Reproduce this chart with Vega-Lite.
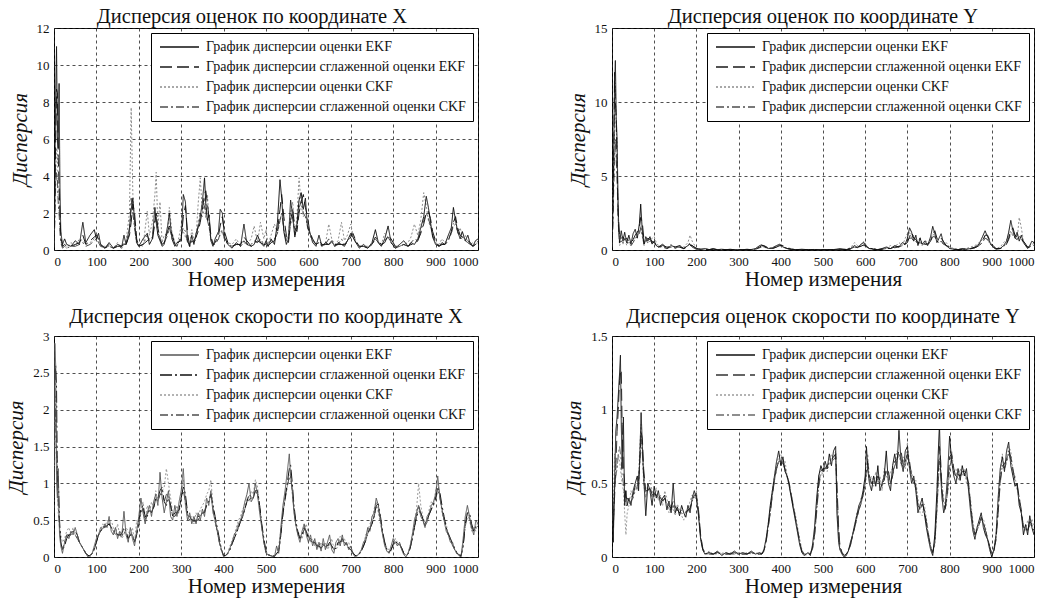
{
"$schema": "https://vega.github.io/schema/vega-lite/v6.json",
"background": "white",
"padding": {"left": 5, "top": 6, "right": 5, "bottom": 4},
"config": {
  "font": "Liberation Serif",
  "view": {"stroke": "black", "strokeWidth": 1},
  "axis": {"grid": true, "gridColor": "#222", "gridDash": [3, 3], "gridWidth": 0.8, "gridOpacity": 1, "domain": false, "ticks": false, "labelFont": "Liberation Serif", "labelFontSize": 13, "labelColor": "#111", "titleFont": "Liberation Serif", "titleFontSize": 21, "titleFontWeight": "normal", "titleColor": "#111"},
  "axisX": {"labelPadding": 5, "titlePadding": 0, "format": "d"},
  "axisY": {"labelPadding": 5, "titlePadding": 6, "titleFontStyle": "italic"},
  "title": {"font": "Liberation Serif", "fontSize": 20.5, "fontWeight": "normal", "color": "#111"},
  "legend": {"orient": "top-right", "offset": 5, "fillColor": "white", "strokeColor": "black", "padding": 7, "symbolType": "M-1,0L6.8,0", "symbolSize": 100, "symbolStrokeWidth": 1.3, "labelFont": "Liberation Serif", "labelFontSize": 14, "labelColor": "#111", "labelLimit": 400, "labelOffset": 34, "rowPadding": 6}
},
"datasets": {
"px": [
{"x":0,"e":0.5,"s":0.3,"c":0.4,"k":0.3},{"x":2,"e":4.0,"s":2.5,"c":2.0,"k":1.5},{"x":4,"e":8.5,"s":6.0,"c":4.0,"k":3.5},{"x":6,"e":11.0,"s":8.7,"c":5.5,"k":4.2},{"x":8,"e":6.0,"s":8.5,"c":5.3,"k":3.8},{"x":10,"e":5.5,"s":5.0,"c":3.0,"k":2.5},{"x":12,"e":9.0,"s":3.5,"c":2.2,"k":2.0},{"x":14,"e":3.4,"s":2.0,"c":1.2,"k":1.0},{"x":16,"e":1.0,"s":0.8,"c":0.5,"k":0.4},{"x":20,"e":0.3,"s":0.2,"c":0.2,"k":0.1},{"x":25,"e":0.6,"s":0.3,"c":0.2,"k":0.2},{"x":30,"e":0.3,"s":0.2,"c":0.1,"k":0.1},{"x":40,"e":0.2,"s":0.2,"c":0.4,"k":0.2},{"x":50,"e":0.5,"s":0.3,"c":0.2,"k":0.2},{"x":60,"e":0.3,"s":0.4,"c":0.6,"k":0.3},{"x":68,"e":1.5,"s":0.8,"c":0.5,"k":0.4},{"x":75,"e":0.4,"s":0.3,"c":0.3,"k":0.2},{"x":85,"e":0.8,"s":0.5,"c":0.4,"k":0.3},{"x":95,"e":1.1,"s":0.7,"c":0.6,"k":0.5},{"x":100,"e":0.6,"s":0.8,"c":0.9,"k":0.6},{"x":105,"e":0.9,"s":0.6,"c":0.5,"k":0.4},{"x":110,"e":0.3,"s":0.3,"c":0.2,"k":0.2},{"x":120,"e":0.1,"s":0.1,"c":0.2,"k":0.1},{"x":130,"e":0.4,"s":0.3,"c":0.2,"k":0.2},{"x":140,"e":0.1,"s":0.1,"c":0.1,"k":0.1},{"x":150,"e":0.3,"s":0.2,"c":0.4,"k":0.2},{"x":160,"e":0.2,"s":0.2,"c":0.1,"k":0.1},{"x":165,"e":0.8,"s":0.4,"c":0.3,"k":0.3},{"x":170,"e":0.3,"s":0.3,"c":0.5,"k":0.3},{"x":178,"e":1.2,"s":0.8,"c":2.0,"k":0.9},{"x":182,"e":2.2,"s":1.5,"c":7.7,"k":2.8},{"x":186,"e":2.8,"s":2.5,"c":3.0,"k":2.0},{"x":190,"e":1.6,"s":2.0,"c":1.2,"k":1.2},{"x":195,"e":0.4,"s":0.6,"c":0.3,"k":0.4},{"x":200,"e":0.2,"s":0.2,"c":0.3,"k":0.2},{"x":210,"e":0.6,"s":0.3,"c":0.2,"k":0.3},{"x":220,"e":0.9,"s":0.5,"c":2.1,"k":0.8},{"x":225,"e":0.3,"s":0.6,"c":0.8,"k":0.5},{"x":232,"e":0.6,"s":0.5,"c":1.5,"k":0.7},{"x":238,"e":2.3,"s":1.5,"c":3.0,"k":1.6},{"x":241,"e":1.5,"s":2.0,"c":4.2,"k":1.8},{"x":245,"e":0.8,"s":1.2,"c":1.2,"k":0.9},{"x":250,"e":0.5,"s":0.6,"c":2.6,"k":0.7},{"x":255,"e":0.2,"s":0.3,"c":0.4,"k":0.3},{"x":260,"e":0.3,"s":0.4,"c":0.8,"k":0.4},{"x":268,"e":1.3,"s":1.0,"c":0.9,"k":0.8},{"x":272,"e":2.0,"s":1.3,"c":2.3,"k":1.2},{"x":278,"e":0.6,"s":0.9,"c":1.0,"k":0.7},{"x":285,"e":0.2,"s":0.3,"c":0.4,"k":0.3},{"x":290,"e":0.4,"s":0.3,"c":0.2,"k":0.2},{"x":300,"e":0.5,"s":0.6,"c":1.3,"k":0.8},{"x":305,"e":3.0,"s":1.8,"c":1.0,"k":1.2},{"x":310,"e":2.6,"s":2.4,"c":0.7,"k":1.0},{"x":315,"e":0.5,"s":0.9,"c":0.5,"k":0.4},{"x":320,"e":0.2,"s":0.2,"c":0.3,"k":0.2},{"x":325,"e":0.8,"s":0.4,"c":1.1,"k":0.5},{"x":330,"e":0.3,"s":0.5,"c":0.6,"k":0.4},{"x":335,"e":0.9,"s":0.7,"c":0.7,"k":0.6},{"x":340,"e":1.2,"s":1.0,"c":2.5,"k":1.4},{"x":345,"e":1.8,"s":1.5,"c":3.9,"k":2.0},{"x":350,"e":2.6,"s":2.2,"c":2.0,"k":1.8},{"x":355,"e":3.9,"s":3.0,"c":2.8,"k":2.4},{"x":358,"e":2.5,"s":3.2,"c":1.7,"k":2.0},{"x":362,"e":1.6,"s":2.5,"c":3.0,"k":1.6},{"x":366,"e":1.9,"s":1.6,"c":1.2,"k":1.2},{"x":370,"e":0.5,"s":0.8,"c":0.6,"k":0.6},{"x":375,"e":0.2,"s":0.3,"c":0.3,"k":0.3},{"x":380,"e":0.6,"s":0.4,"c":0.4,"k":0.3},{"x":388,"e":1.0,"s":0.8,"c":0.6,"k":0.6},{"x":392,"e":2.2,"s":1.3,"c":0.8,"k":0.9},{"x":397,"e":2.0,"s":1.8,"c":1.0,"k":1.1},{"x":402,"e":0.7,"s":1.0,"c":0.6,"k":0.6},{"x":410,"e":0.3,"s":0.4,"c":0.4,"k":0.3},{"x":420,"e":0.1,"s":0.2,"c":0.3,"k":0.2},{"x":430,"e":0.4,"s":0.3,"c":0.6,"k":0.3},{"x":440,"e":0.2,"s":0.3,"c":0.2,"k":0.2},{"x":448,"e":1.4,"s":0.7,"c":0.4,"k":0.5},{"x":455,"e":0.3,"s":0.5,"c":0.3,"k":0.3},{"x":465,"e":0.2,"s":0.2,"c":0.6,"k":0.3},{"x":472,"e":0.3,"s":0.3,"c":1.3,"k":0.5},{"x":480,"e":0.8,"s":0.5,"c":0.4,"k":0.4},{"x":487,"e":0.4,"s":0.4,"c":1.5,"k":0.6},{"x":495,"e":0.2,"s":0.3,"c":0.6,"k":0.3},{"x":500,"e":0.5,"s":0.3,"c":1.1,"k":0.4},{"x":505,"e":0.2,"s":0.2,"c":0.3,"k":0.2},{"x":512,"e":0.6,"s":0.4,"c":0.8,"k":0.5},{"x":520,"e":0.3,"s":0.5,"c":1.4,"k":0.6},{"x":527,"e":1.5,"s":1.0,"c":0.9,"k":0.9},{"x":533,"e":3.8,"s":2.2,"c":1.6,"k":1.6},{"x":537,"e":2.8,"s":3.0,"c":2.0,"k":2.0},{"x":542,"e":1.0,"s":1.8,"c":1.2,"k":1.1},{"x":548,"e":0.3,"s":0.8,"c":0.5,"k":0.5},{"x":553,"e":0.6,"s":0.4,"c":0.8,"k":0.5},{"x":558,"e":2.7,"s":1.6,"c":2.0,"k":1.4},{"x":563,"e":1.8,"s":2.2,"c":2.6,"k":1.8},{"x":568,"e":0.7,"s":1.2,"c":0.8,"k":0.8},{"x":573,"e":1.4,"s":1.0,"c":1.8,"k":1.2},{"x":578,"e":2.7,"s":2.0,"c":3.9,"k":2.3},{"x":583,"e":3.1,"s":2.6,"c":2.4,"k":2.6},{"x":588,"e":2.2,"s":3.0,"c":1.8,"k":2.0},{"x":593,"e":2.8,"s":2.3,"c":2.0,"k":1.8},{"x":598,"e":1.2,"s":1.8,"c":1.2,"k":1.3},{"x":603,"e":1.0,"s":1.0,"c":0.8,"k":0.9},{"x":610,"e":0.4,"s":0.6,"c":0.5,"k":0.5},{"x":618,"e":0.2,"s":0.3,"c":0.3,"k":0.3},{"x":625,"e":0.8,"s":0.5,"c":0.4,"k":0.4},{"x":632,"e":0.2,"s":0.3,"c":0.2,"k":0.2},{"x":640,"e":0.4,"s":0.3,"c":0.3,"k":0.3},{"x":648,"e":0.3,"s":0.3,"c":1.4,"k":0.6},{"x":655,"e":0.5,"s":0.4,"c":0.6,"k":0.4},{"x":662,"e":0.2,"s":0.3,"c":0.3,"k":0.2},{"x":670,"e":0.4,"s":0.3,"c":0.5,"k":0.3},{"x":678,"e":0.3,"s":0.3,"c":1.5,"k":0.6},{"x":685,"e":0.2,"s":0.3,"c":0.5,"k":0.3},{"x":692,"e":0.5,"s":0.4,"c":0.8,"k":0.5},{"x":700,"e":0.9,"s":0.7,"c":1.4,"k":0.8},{"x":705,"e":0.7,"s":0.9,"c":0.8,"k":0.7},{"x":712,"e":0.4,"s":0.5,"c":0.5,"k":0.4},{"x":720,"e":0.1,"s":0.2,"c":0.2,"k":0.2},{"x":730,"e":0.3,"s":0.2,"c":0.2,"k":0.2},{"x":740,"e":0.1,"s":0.1,"c":0.2,"k":0.1},{"x":750,"e":0.4,"s":0.3,"c":0.3,"k":0.3},{"x":758,"e":1.1,"s":0.7,"c":0.6,"k":0.6},{"x":765,"e":0.4,"s":0.5,"c":0.4,"k":0.4},{"x":772,"e":0.2,"s":0.3,"c":0.3,"k":0.2},{"x":780,"e":0.6,"s":0.4,"c":0.9,"k":0.5},{"x":788,"e":1.3,"s":0.8,"c":0.7,"k":0.7},{"x":795,"e":0.4,"s":0.6,"c":0.4,"k":0.4},{"x":805,"e":0.1,"s":0.2,"c":0.2,"k":0.1},{"x":815,"e":0.3,"s":0.2,"c":0.2,"k":0.2},{"x":825,"e":0.5,"s":0.3,"c":0.3,"k":0.3},{"x":835,"e":0.2,"s":0.2,"c":0.4,"k":0.2},{"x":842,"e":0.4,"s":0.3,"c":0.7,"k":0.4},{"x":850,"e":0.3,"s":0.3,"c":1.4,"k":0.6},{"x":858,"e":0.6,"s":0.5,"c":0.8,"k":0.5},{"x":865,"e":1.2,"s":0.9,"c":1.6,"k":1.0},{"x":872,"e":1.8,"s":1.4,"c":3.1,"k":1.6},{"x":878,"e":2.9,"s":2.0,"c":2.4,"k":2.0},{"x":883,"e":2.3,"s":2.1,"c":1.6,"k":1.7},{"x":888,"e":1.5,"s":1.7,"c":1.2,"k":1.3},{"x":893,"e":0.7,"s":1.0,"c":0.8,"k":0.8},{"x":900,"e":0.3,"s":0.5,"c":0.4,"k":0.4},{"x":908,"e":0.2,"s":0.2,"c":0.3,"k":0.2},{"x":915,"e":0.4,"s":0.3,"c":0.6,"k":0.3},{"x":922,"e":0.3,"s":0.3,"c":0.4,"k":0.3},{"x":930,"e":0.8,"s":0.5,"c":0.6,"k":0.5},{"x":937,"e":1.2,"s":1.0,"c":0.9,"k":0.9},{"x":942,"e":2.3,"s":1.5,"c":1.4,"k":1.3},{"x":947,"e":1.6,"s":1.8,"c":1.8,"k":1.4},{"x":952,"e":1.0,"s":1.2,"c":0.9,"k":1.0},{"x":958,"e":0.6,"s":0.8,"c":1.2,"k":0.7},{"x":963,"e":1.0,"s":0.7,"c":0.7,"k":0.6},{"x":970,"e":0.5,"s":0.6,"c":0.8,"k":0.5},{"x":976,"e":0.8,"s":0.5,"c":0.4,"k":0.4},{"x":982,"e":0.3,"s":0.4,"c":0.3,"k":0.3},{"x":988,"e":0.2,"s":0.2,"c":0.4,"k":0.2},{"x":994,"e":0.5,"s":0.3,"c":0.3,"k":0.3},{"x":1000,"e":0.6,"s":0.4,"c":0.5,"k":0.4}
],
"py": [
{"x":0,"e":0.5,"s":0.3,"c":0.4,"k":0.3},{"x":2,"e":3.0,"s":2.0,"c":2.5,"k":1.5},{"x":4,"e":7.0,"s":5.5,"c":6.0,"k":4.0},{"x":6,"e":11.0,"s":12.0,"c":8.0,"k":6.0},{"x":8,"e":12.8,"s":10.0,"c":11.3,"k":7.5},{"x":10,"e":9.0,"s":9.0,"c":8.0,"k":6.0},{"x":12,"e":7.5,"s":5.5,"c":7.5,"k":5.0},{"x":14,"e":4.0,"s":3.0,"c":2.5,"k":2.5},{"x":16,"e":1.5,"s":1.8,"c":1.0,"k":1.2},{"x":18,"e":0.5,"s":0.8,"c":0.3,"k":0.5},{"x":22,"e":1.3,"s":0.8,"c":0.6,"k":0.6},{"x":26,"e":0.6,"s":0.9,"c":0.4,"k":0.5},{"x":30,"e":1.2,"s":0.7,"c":0.8,"k":0.6},{"x":35,"e":0.5,"s":0.8,"c":0.3,"k":0.5},{"x":40,"e":1.0,"s":0.6,"c":0.6,"k":0.5},{"x":45,"e":0.4,"s":0.5,"c":0.3,"k":0.3},{"x":50,"e":1.1,"s":0.7,"c":0.5,"k":0.5},{"x":55,"e":1.4,"s":1.0,"c":0.8,"k":0.8},{"x":60,"e":0.8,"s":1.2,"c":1.0,"k":0.9},{"x":65,"e":1.8,"s":1.5,"c":1.2,"k":1.1},{"x":68,"e":3.1,"s":2.2,"c":1.6,"k":1.5},{"x":72,"e":1.2,"s":1.8,"c":0.9,"k":1.0},{"x":76,"e":0.4,"s":0.6,"c":0.3,"k":0.4},{"x":80,"e":0.9,"s":0.6,"c":0.7,"k":0.6},{"x":85,"e":0.6,"s":0.8,"c":0.5,"k":0.5},{"x":90,"e":0.9,"s":0.7,"c":0.6,"k":0.6},{"x":95,"e":0.4,"s":0.6,"c":0.8,"k":0.5},{"x":100,"e":0.6,"s":0.5,"c":0.9,"k":0.5},{"x":105,"e":0.3,"s":0.4,"c":0.5,"k":0.3},{"x":110,"e":0.2,"s":0.2,"c":0.3,"k":0.2},{"x":120,"e":0.4,"s":0.3,"c":0.2,"k":0.2},{"x":130,"e":0.1,"s":0.2,"c":0.1,"k":0.1},{"x":140,"e":0.3,"s":0.2,"c":0.4,"k":0.2},{"x":150,"e":0.2,"s":0.2,"c":0.1,"k":0.1},{"x":160,"e":0.3,"s":0.2,"c":0.3,"k":0.2},{"x":170,"e":0.1,"s":0.1,"c":0.2,"k":0.1},{"x":180,"e":0.3,"s":0.2,"c":0.5,"k":0.3},{"x":185,"e":0.4,"s":0.3,"c":1.0,"k":0.5},{"x":190,"e":0.2,"s":0.3,"c":0.6,"k":0.3},{"x":200,"e":0.05,"s":0.1,"c":0.1,"k":0.1},{"x":210,"e":0.05,"s":0.05,"c":0.05,"k":0.05},{"x":220,"e":0.1,"s":0.05,"c":0.05,"k":0.05},{"x":230,"e":0.02,"s":0.03,"c":0.05,"k":0.03},{"x":240,"e":0.1,"s":0.05,"c":0.05,"k":0.05},{"x":250,"e":0.02,"s":0.02,"c":0.03,"k":0.02},{"x":260,"e":0.05,"s":0.03,"c":0.05,"k":0.03},{"x":270,"e":0.02,"s":0.02,"c":0.02,"k":0.02},{"x":280,"e":0.05,"s":0.03,"c":0.03,"k":0.03},{"x":290,"e":0.02,"s":0.02,"c":0.02,"k":0.02},{"x":300,"e":0.03,"s":0.02,"c":0.03,"k":0.02},{"x":310,"e":0.02,"s":0.02,"c":0.02,"k":0.02},{"x":320,"e":0.05,"s":0.03,"c":0.03,"k":0.03},{"x":330,"e":0.02,"s":0.02,"c":0.04,"k":0.02},{"x":340,"e":0.1,"s":0.05,"c":0.08,"k":0.05},{"x":350,"e":0.3,"s":0.2,"c":0.2,"k":0.15},{"x":355,"e":0.35,"s":0.3,"c":0.25,"k":0.2},{"x":360,"e":0.25,"s":0.3,"c":0.2,"k":0.2},{"x":370,"e":0.1,"s":0.15,"c":0.15,"k":0.1},{"x":380,"e":0.15,"s":0.1,"c":0.1,"k":0.1},{"x":390,"e":0.3,"s":0.2,"c":0.25,"k":0.2},{"x":398,"e":0.4,"s":0.3,"c":0.35,"k":0.3},{"x":405,"e":0.2,"s":0.3,"c":0.2,"k":0.2},{"x":415,"e":0.1,"s":0.1,"c":0.15,"k":0.1},{"x":425,"e":0.05,"s":0.05,"c":0.1,"k":0.05},{"x":435,"e":0.02,"s":0.02,"c":0.03,"k":0.02},{"x":450,"e":0.05,"s":0.03,"c":0.02,"k":0.03},{"x":465,"e":0.02,"s":0.02,"c":0.02,"k":0.02},{"x":480,"e":0.03,"s":0.02,"c":0.04,"k":0.02},{"x":495,"e":0.02,"s":0.02,"c":0.02,"k":0.02},{"x":510,"e":0.02,"s":0.02,"c":0.03,"k":0.02},{"x":525,"e":0.03,"s":0.02,"c":0.02,"k":0.02},{"x":540,"e":0.08,"s":0.05,"c":0.05,"k":0.05},{"x":555,"e":0.03,"s":0.03,"c":0.05,"k":0.03},{"x":565,"e":0.1,"s":0.05,"c":0.15,"k":0.08},{"x":575,"e":0.3,"s":0.15,"c":0.5,"k":0.2},{"x":582,"e":0.15,"s":0.2,"c":0.3,"k":0.2},{"x":590,"e":0.4,"s":0.25,"c":0.3,"k":0.25},{"x":597,"e":0.5,"s":0.35,"c":0.6,"k":0.3},{"x":603,"e":0.2,"s":0.3,"c":0.3,"k":0.25},{"x":610,"e":0.1,"s":0.15,"c":0.1,"k":0.1},{"x":620,"e":0.05,"s":0.05,"c":0.1,"k":0.05},{"x":630,"e":0.02,"s":0.03,"c":0.05,"k":0.03},{"x":640,"e":0.1,"s":0.05,"c":0.05,"k":0.05},{"x":650,"e":0.2,"s":0.1,"c":0.15,"k":0.1},{"x":660,"e":0.1,"s":0.1,"c":0.3,"k":0.1},{"x":670,"e":0.3,"s":0.2,"c":0.2,"k":0.15},{"x":680,"e":0.2,"s":0.25,"c":0.5,"k":0.2},{"x":688,"e":0.5,"s":0.3,"c":0.3,"k":0.3},{"x":695,"e":0.4,"s":0.4,"c":0.8,"k":0.4},{"x":700,"e":0.8,"s":0.5,"c":1.1,"k":0.6},{"x":705,"e":1.5,"s":0.9,"c":1.2,"k":0.8},{"x":710,"e":1.2,"s":1.2,"c":0.8,"k":0.8},{"x":715,"e":0.6,"s":0.8,"c":1.0,"k":0.6},{"x":720,"e":1.0,"s":0.7,"c":0.6,"k":0.6},{"x":725,"e":0.3,"s":0.5,"c":0.4,"k":0.4},{"x":730,"e":0.8,"s":0.5,"c":0.9,"k":0.5},{"x":735,"e":0.4,"s":0.5,"c":0.3,"k":0.4},{"x":742,"e":0.6,"s":0.4,"c":0.7,"k":0.4},{"x":748,"e":0.3,"s":0.4,"c":0.4,"k":0.3},{"x":755,"e":0.9,"s":0.6,"c":0.8,"k":0.6},{"x":760,"e":1.6,"s":1.1,"c":1.1,"k":0.9},{"x":765,"e":1.1,"s":1.3,"c":0.9,"k":0.9},{"x":770,"e":0.5,"s":0.8,"c":0.6,"k":0.6},{"x":775,"e":0.8,"s":0.6,"c":0.5,"k":0.5},{"x":780,"e":1.1,"s":0.8,"c":0.6,"k":0.6},{"x":785,"e":0.5,"s":0.6,"c":0.4,"k":0.4},{"x":792,"e":0.3,"s":0.3,"c":0.5,"k":0.3},{"x":800,"e":0.1,"s":0.2,"c":0.2,"k":0.15},{"x":810,"e":0.05,"s":0.05,"c":0.1,"k":0.05},{"x":820,"e":0.02,"s":0.03,"c":0.05,"k":0.03},{"x":830,"e":0.1,"s":0.05,"c":0.05,"k":0.05},{"x":840,"e":0.05,"s":0.05,"c":0.1,"k":0.05},{"x":850,"e":0.1,"s":0.08,"c":0.2,"k":0.1},{"x":860,"e":0.2,"s":0.15,"c":0.3,"k":0.15},{"x":870,"e":0.4,"s":0.3,"c":0.5,"k":0.3},{"x":878,"e":0.9,"s":0.6,"c":0.7,"k":0.5},{"x":884,"e":1.3,"s":1.0,"c":0.9,"k":0.8},{"x":890,"e":0.9,"s":1.0,"c":0.7,"k":0.7},{"x":896,"e":0.5,"s":0.6,"c":0.4,"k":0.4},{"x":903,"e":0.2,"s":0.3,"c":0.2,"k":0.2},{"x":910,"e":0.05,"s":0.1,"c":0.1,"k":0.08},{"x":920,"e":0.1,"s":0.1,"c":0.2,"k":0.1},{"x":928,"e":0.3,"s":0.2,"c":0.5,"k":0.25},{"x":935,"e":0.6,"s":0.4,"c":0.7,"k":0.4},{"x":940,"e":1.2,"s":0.8,"c":0.9,"k":0.7},{"x":945,"e":2.0,"s":1.3,"c":1.3,"k":1.1},{"x":950,"e":1.3,"s":1.5,"c":1.0,"k":1.0},{"x":955,"e":0.8,"s":1.0,"c":1.1,"k":0.8},{"x":960,"e":1.2,"s":0.9,"c":0.7,"k":0.7},{"x":965,"e":0.6,"s":0.8,"c":2.2,"k":0.9},{"x":970,"e":1.0,"s":0.7,"c":1.5,"k":0.8},{"x":975,"e":0.5,"s":0.6,"c":0.6,"k":0.5},{"x":980,"e":0.3,"s":0.4,"c":0.4,"k":0.3},{"x":985,"e":0.1,"s":0.2,"c":0.2,"k":0.15},{"x":990,"e":0.3,"s":0.2,"c":0.3,"k":0.2},{"x":995,"e":0.6,"s":0.4,"c":0.4,"k":0.3},{"x":1000,"e":0.5,"s":0.5,"c":0.3,"k":0.3}
],
"vx": [
{"x":0,"e":1.0,"s":0.5,"c":0.8,"k":0.6},{"x":2,"e":2.9,"s":2.3,"c":1.8,"k":1.6},{"x":4,"e":2.6,"s":2.6,"c":2.2,"k":2.0},{"x":6,"e":1.0,"s":2.3,"c":1.5,"k":1.4},{"x":8,"e":0.8,"s":1.0,"c":1.2,"k":1.0},{"x":10,"e":1.2,"s":1.1,"c":0.6,"k":0.7},{"x":13,"e":0.3,"s":0.5,"c":0.4,"k":0.4},{"x":16,"e":0.15,"s":0.2,"c":0.3,"k":0.2},{"x":20,"e":0.05,"s":0.1,"c":0.2,"k":0.1},{"x":25,"e":0.2,"s":0.15,"c":0.25,"k":0.2},{"x":30,"e":0.3,"s":0.25,"c":0.35,"k":0.3},{"x":35,"e":0.25,"s":0.3,"c":0.4,"k":0.3},{"x":40,"e":0.35,"s":0.3,"c":0.3,"k":0.3},{"x":45,"e":0.3,"s":0.35,"c":0.4,"k":0.35},{"x":50,"e":0.4,"s":0.35,"c":0.3,"k":0.3},{"x":55,"e":0.3,"s":0.3,"c":0.25,"k":0.25},{"x":60,"e":0.2,"s":0.2,"c":0.2,"k":0.2},{"x":65,"e":0.15,"s":0.15,"c":0.15,"k":0.15},{"x":70,"e":0.1,"s":0.1,"c":0.1,"k":0.1},{"x":75,"e":0.05,"s":0.05,"c":0.05,"k":0.05},{"x":80,"e":0.0,"s":0.02,"c":0.03,"k":0.02},{"x":85,"e":0.02,"s":0.02,"c":0.0,"k":0.01},{"x":90,"e":0.05,"s":0.05,"c":0.05,"k":0.05},{"x":95,"e":0.15,"s":0.12,"c":0.1,"k":0.1},{"x":100,"e":0.25,"s":0.2,"c":0.2,"k":0.2},{"x":105,"e":0.3,"s":0.3,"c":0.3,"k":0.3},{"x":110,"e":0.4,"s":0.35,"c":0.35,"k":0.35},{"x":115,"e":0.38,"s":0.4,"c":0.45,"k":0.4},{"x":120,"e":0.45,"s":0.42,"c":0.4,"k":0.4},{"x":125,"e":0.4,"s":0.42,"c":0.5,"k":0.42},{"x":130,"e":0.55,"s":0.45,"c":0.45,"k":0.45},{"x":135,"e":0.35,"s":0.4,"c":0.5,"k":0.4},{"x":140,"e":0.3,"s":0.35,"c":0.4,"k":0.35},{"x":145,"e":0.4,"s":0.35,"c":0.3,"k":0.3},{"x":150,"e":0.25,"s":0.3,"c":0.45,"k":0.3},{"x":155,"e":0.35,"s":0.3,"c":0.3,"k":0.3},{"x":160,"e":0.3,"s":0.32,"c":0.25,"k":0.28},{"x":165,"e":0.62,"s":0.4,"c":0.3,"k":0.35},{"x":170,"e":0.3,"s":0.35,"c":0.4,"k":0.3},{"x":175,"e":0.2,"s":0.25,"c":0.35,"k":0.25},{"x":180,"e":0.4,"s":0.3,"c":0.3,"k":0.3},{"x":185,"e":0.25,"s":0.3,"c":0.4,"k":0.3},{"x":190,"e":0.15,"s":0.2,"c":0.2,"k":0.2},{"x":195,"e":0.35,"s":0.3,"c":0.5,"k":0.3},{"x":200,"e":0.55,"s":0.5,"c":0.4,"k":0.45},{"x":205,"e":0.8,"s":0.65,"c":0.6,"k":0.6},{"x":210,"e":0.6,"s":0.7,"c":0.75,"k":0.65},{"x":215,"e":0.45,"s":0.55,"c":0.5,"k":0.5},{"x":220,"e":0.6,"s":0.55,"c":0.7,"k":0.6},{"x":225,"e":0.7,"s":0.65,"c":0.6,"k":0.6},{"x":230,"e":0.55,"s":0.6,"c":0.75,"k":0.62},{"x":235,"e":0.75,"s":0.68,"c":0.65,"k":0.65},{"x":240,"e":0.85,"s":0.8,"c":0.9,"k":0.8},{"x":245,"e":0.7,"s":0.8,"c":0.75,"k":0.75},{"x":250,"e":1.15,"s":0.9,"c":0.85,"k":0.85},{"x":255,"e":0.8,"s":0.95,"c":0.9,"k":0.85},{"x":260,"e":0.6,"s":0.75,"c":0.95,"k":0.75},{"x":265,"e":0.75,"s":0.7,"c":1.2,"k":0.85},{"x":270,"e":0.9,"s":0.8,"c":1.0,"k":0.85},{"x":275,"e":0.55,"s":0.7,"c":0.8,"k":0.7},{"x":280,"e":0.5,"s":0.55,"c":0.6,"k":0.55},{"x":285,"e":0.7,"s":0.6,"c":0.55,"k":0.55},{"x":290,"e":0.55,"s":0.6,"c":0.7,"k":0.6},{"x":295,"e":0.75,"s":0.65,"c":0.6,"k":0.6},{"x":300,"e":0.9,"s":0.8,"c":0.85,"k":0.8},{"x":305,"e":1.2,"s":0.95,"c":1.05,"k":0.9},{"x":310,"e":0.7,"s":0.85,"c":0.8,"k":0.75},{"x":315,"e":0.5,"s":0.6,"c":0.6,"k":0.55},{"x":320,"e":0.6,"s":0.55,"c":0.5,"k":0.5},{"x":325,"e":0.45,"s":0.5,"c":0.55,"k":0.5},{"x":330,"e":0.55,"s":0.5,"c":0.45,"k":0.48},{"x":335,"e":0.45,"s":0.48,"c":0.6,"k":0.5},{"x":340,"e":0.6,"s":0.55,"c":0.5,"k":0.5},{"x":345,"e":0.5,"s":0.55,"c":0.65,"k":0.55},{"x":350,"e":0.65,"s":0.6,"c":0.7,"k":0.6},{"x":355,"e":0.55,"s":0.6,"c":0.75,"k":0.62},{"x":360,"e":0.8,"s":0.7,"c":0.85,"k":0.72},{"x":365,"e":0.7,"s":0.75,"c":0.9,"k":0.75},{"x":370,"e":0.9,"s":0.85,"c":1.05,"k":0.85},{"x":375,"e":0.6,"s":0.7,"c":0.7,"k":0.65},{"x":380,"e":0.5,"s":0.55,"c":0.45,"k":0.5},{"x":385,"e":0.35,"s":0.4,"c":0.35,"k":0.35},{"x":390,"e":0.2,"s":0.25,"c":0.2,"k":0.2},{"x":395,"e":0.1,"s":0.1,"c":0.08,"k":0.08},{"x":400,"e":0.0,"s":0.02,"c":0.02,"k":0.02},{"x":405,"e":0.02,"s":0.02,"c":0.03,"k":0.02},{"x":410,"e":0.05,"s":0.05,"c":0.06,"k":0.05},{"x":415,"e":0.12,"s":0.1,"c":0.15,"k":0.1},{"x":420,"e":0.2,"s":0.18,"c":0.22,"k":0.18},{"x":425,"e":0.3,"s":0.25,"c":0.3,"k":0.25},{"x":430,"e":0.35,"s":0.32,"c":0.4,"k":0.32},{"x":435,"e":0.45,"s":0.4,"c":0.5,"k":0.4},{"x":440,"e":0.5,"s":0.48,"c":0.55,"k":0.5},{"x":445,"e":0.6,"s":0.55,"c":0.65,"k":0.55},{"x":450,"e":0.75,"s":0.65,"c":0.7,"k":0.65},{"x":455,"e":0.85,"s":0.75,"c":0.8,"k":0.75},{"x":460,"e":1.0,"s":0.85,"c":0.75,"k":0.78},{"x":465,"e":0.75,"s":0.82,"c":0.9,"k":0.8},{"x":470,"e":0.8,"s":0.8,"c":0.85,"k":0.8},{"x":475,"e":1.0,"s":0.9,"c":1.05,"k":0.9},{"x":480,"e":0.85,"s":0.9,"c":0.95,"k":0.85},{"x":485,"e":0.6,"s":0.7,"c":0.7,"k":0.68},{"x":490,"e":0.4,"s":0.45,"c":0.4,"k":0.42},{"x":495,"e":0.2,"s":0.25,"c":0.2,"k":0.2},{"x":500,"e":0.05,"s":0.08,"c":0.06,"k":0.06},{"x":505,"e":0.03,"s":0.03,"c":0.03,"k":0.03},{"x":510,"e":0.02,"s":0.02,"c":0.02,"k":0.02},{"x":515,"e":0.01,"s":0.02,"c":0.01,"k":0.01},{"x":520,"e":0.0,"s":0.01,"c":0.01,"k":0.01},{"x":525,"e":0.15,"s":0.05,"c":0.03,"k":0.04},{"x":530,"e":0.05,"s":0.08,"c":0.15,"k":0.08},{"x":535,"e":0.4,"s":0.3,"c":0.35,"k":0.3},{"x":540,"e":0.7,"s":0.6,"c":0.6,"k":0.58},{"x":545,"e":0.9,"s":0.8,"c":0.8,"k":0.78},{"x":550,"e":1.15,"s":1.0,"c":0.95,"k":0.95},{"x":555,"e":1.4,"s":1.2,"c":1.05,"k":1.1},{"x":558,"e":1.1,"s":1.25,"c":1.15,"k":1.1},{"x":562,"e":0.9,"s":1.0,"c":0.85,"k":0.9},{"x":566,"e":0.6,"s":0.7,"c":0.65,"k":0.65},{"x":570,"e":0.45,"s":0.5,"c":0.45,"k":0.45},{"x":575,"e":0.3,"s":0.35,"c":0.35,"k":0.32},{"x":580,"e":0.2,"s":0.25,"c":0.3,"k":0.25},{"x":585,"e":0.35,"s":0.3,"c":0.25,"k":0.28},{"x":590,"e":0.45,"s":0.4,"c":0.35,"k":0.38},{"x":595,"e":0.3,"s":0.35,"c":0.45,"k":0.35},{"x":600,"e":0.2,"s":0.25,"c":0.3,"k":0.25},{"x":605,"e":0.3,"s":0.25,"c":0.2,"k":0.22},{"x":610,"e":0.15,"s":0.2,"c":0.25,"k":0.2},{"x":615,"e":0.25,"s":0.2,"c":0.15,"k":0.18},{"x":620,"e":0.1,"s":0.15,"c":0.2,"k":0.15},{"x":625,"e":0.2,"s":0.15,"c":0.12,"k":0.14},{"x":630,"e":0.08,"s":0.12,"c":0.2,"k":0.12},{"x":635,"e":0.25,"s":0.18,"c":0.15,"k":0.16},{"x":640,"e":0.1,"s":0.15,"c":0.2,"k":0.15},{"x":645,"e":0.2,"s":0.15,"c":0.1,"k":0.12},{"x":650,"e":0.3,"s":0.2,"c":0.15,"k":0.18},{"x":655,"e":0.1,"s":0.15,"c":0.25,"k":0.15},{"x":660,"e":0.05,"s":0.1,"c":0.12,"k":0.1},{"x":665,"e":0.2,"s":0.12,"c":0.1,"k":0.12},{"x":670,"e":0.25,"s":0.2,"c":0.15,"k":0.18},{"x":675,"e":0.15,"s":0.2,"c":0.28,"k":0.2},{"x":680,"e":0.3,"s":0.25,"c":0.2,"k":0.22},{"x":685,"e":0.15,"s":0.2,"c":0.25,"k":0.2},{"x":690,"e":0.2,"s":0.18,"c":0.15,"k":0.16},{"x":695,"e":0.1,"s":0.12,"c":0.2,"k":0.12},{"x":700,"e":0.15,"s":0.1,"c":0.1,"k":0.1},{"x":705,"e":0.05,"s":0.06,"c":0.05,"k":0.05},{"x":710,"e":0.0,"s":0.02,"c":0.02,"k":0.02},{"x":715,"e":0.02,"s":0.02,"c":0.01,"k":0.02},{"x":720,"e":0.05,"s":0.04,"c":0.05,"k":0.04},{"x":725,"e":0.1,"s":0.08,"c":0.1,"k":0.08},{"x":730,"e":0.2,"s":0.15,"c":0.15,"k":0.15},{"x":735,"e":0.25,"s":0.22,"c":0.3,"k":0.22},{"x":740,"e":0.4,"s":0.32,"c":0.35,"k":0.32},{"x":745,"e":0.35,"s":0.38,"c":0.45,"k":0.38},{"x":750,"e":0.55,"s":0.45,"c":0.5,"k":0.45},{"x":755,"e":0.6,"s":0.55,"c":0.65,"k":0.55},{"x":760,"e":0.8,"s":0.7,"c":0.75,"k":0.68},{"x":765,"e":0.7,"s":0.72,"c":0.6,"k":0.65},{"x":770,"e":0.5,"s":0.55,"c":0.45,"k":0.5},{"x":775,"e":0.3,"s":0.35,"c":0.3,"k":0.32},{"x":780,"e":0.15,"s":0.2,"c":0.2,"k":0.18},{"x":785,"e":0.08,"s":0.1,"c":0.12,"k":0.1},{"x":790,"e":0.05,"s":0.06,"c":0.1,"k":0.06},{"x":795,"e":0.15,"s":0.1,"c":0.08,"k":0.1},{"x":800,"e":0.25,"s":0.18,"c":0.15,"k":0.16},{"x":805,"e":0.2,"s":0.22,"c":0.25,"k":0.2},{"x":810,"e":0.15,"s":0.18,"c":0.2,"k":0.18},{"x":815,"e":0.2,"s":0.18,"c":0.15,"k":0.16},{"x":820,"e":0.1,"s":0.12,"c":0.12,"k":0.12},{"x":825,"e":0.03,"s":0.05,"c":0.05,"k":0.05},{"x":830,"e":0.0,"s":0.02,"c":0.02,"k":0.02},{"x":835,"e":0.05,"s":0.04,"c":0.05,"k":0.04},{"x":840,"e":0.15,"s":0.12,"c":0.15,"k":0.12},{"x":845,"e":0.3,"s":0.25,"c":0.3,"k":0.25},{"x":850,"e":0.5,"s":0.4,"c":0.45,"k":0.4},{"x":855,"e":0.6,"s":0.55,"c":0.65,"k":0.55},{"x":860,"e":0.7,"s":0.62,"c":1.0,"k":0.7},{"x":865,"e":0.55,"s":0.6,"c":0.7,"k":0.6},{"x":870,"e":0.5,"s":0.52,"c":0.55,"k":0.5},{"x":875,"e":0.4,"s":0.45,"c":0.45,"k":0.42},{"x":880,"e":0.55,"s":0.5,"c":0.45,"k":0.48},{"x":885,"e":0.6,"s":0.58,"c":0.65,"k":0.58},{"x":890,"e":0.7,"s":0.65,"c":0.75,"k":0.65},{"x":895,"e":0.75,"s":0.72,"c":0.7,"k":0.7},{"x":900,"e":0.85,"s":0.8,"c":0.9,"k":0.78},{"x":905,"e":1.1,"s":0.95,"c":1.0,"k":0.9},{"x":910,"e":0.8,"s":0.88,"c":0.85,"k":0.82},{"x":915,"e":0.65,"s":0.7,"c":0.6,"k":0.65},{"x":920,"e":0.5,"s":0.55,"c":0.5,"k":0.5},{"x":925,"e":0.35,"s":0.4,"c":0.45,"k":0.4},{"x":930,"e":0.3,"s":0.32,"c":0.3,"k":0.3},{"x":935,"e":0.2,"s":0.25,"c":0.25,"k":0.22},{"x":940,"e":0.2,"s":0.18,"c":0.15,"k":0.16},{"x":945,"e":0.1,"s":0.12,"c":0.1,"k":0.1},{"x":950,"e":0.05,"s":0.06,"c":0.05,"k":0.05},{"x":955,"e":0.02,"s":0.03,"c":0.02,"k":0.02},{"x":960,"e":0.0,"s":0.02,"c":0.02,"k":0.01},{"x":965,"e":0.25,"s":0.15,"c":0.2,"k":0.15},{"x":970,"e":0.55,"s":0.45,"c":0.5,"k":0.42},{"x":975,"e":0.7,"s":0.6,"c":0.6,"k":0.55},{"x":980,"e":0.55,"s":0.6,"c":0.5,"k":0.52},{"x":985,"e":0.4,"s":0.45,"c":0.35,"k":0.4},{"x":990,"e":0.3,"s":0.35,"c":0.4,"k":0.35},{"x":995,"e":0.5,"s":0.42,"c":0.35,"k":0.4},{"x":1000,"e":0.45,"s":0.4,"c":0.5,"k":0.42}
],
"vy": [
{"x":0,"e":0.7,"s":0.5,"c":0.4,"k":0.3},{"x":3,"e":0.1,"s":0.2,"c":0.3,"k":0.2},{"x":6,"e":0.5,"s":0.4,"c":0.7,"k":0.45},{"x":9,"e":0.85,"s":0.6,"c":0.55,"k":0.55},{"x":12,"e":0.95,"s":0.85,"c":0.6,"k":0.6},{"x":15,"e":1.1,"s":1.0,"c":0.7,"k":0.7},{"x":18,"e":1.25,"s":1.2,"c":0.65,"k":0.75},{"x":20,"e":1.37,"s":1.25,"c":0.6,"k":0.7},{"x":22,"e":0.9,"s":1.27,"c":0.55,"k":0.65},{"x":24,"e":0.6,"s":0.9,"c":0.5,"k":0.55},{"x":27,"e":0.95,"s":0.6,"c":0.45,"k":0.5},{"x":30,"e":0.35,"s":0.5,"c":0.3,"k":0.4},{"x":33,"e":0.45,"s":0.4,"c":0.15,"k":0.35},{"x":36,"e":0.35,"s":0.4,"c":0.3,"k":0.35},{"x":40,"e":0.4,"s":0.38,"c":0.35,"k":0.35},{"x":45,"e":0.35,"s":0.4,"c":0.45,"k":0.38},{"x":50,"e":0.45,"s":0.42,"c":0.4,"k":0.4},{"x":55,"e":0.5,"s":0.48,"c":0.5,"k":0.45},{"x":60,"e":0.55,"s":0.5,"c":0.45,"k":0.48},{"x":63,"e":0.45,"s":0.52,"c":0.55,"k":0.5},{"x":66,"e":0.7,"s":0.65,"c":0.75,"k":0.65},{"x":69,"e":0.98,"s":0.85,"c":0.9,"k":0.8},{"x":72,"e":0.75,"s":0.8,"c":0.7,"k":0.7},{"x":75,"e":0.55,"s":0.6,"c":0.5,"k":0.55},{"x":80,"e":0.28,"s":0.45,"c":0.4,"k":0.42},{"x":85,"e":0.5,"s":0.45,"c":0.5,"k":0.45},{"x":90,"e":0.45,"s":0.48,"c":0.52,"k":0.47},{"x":95,"e":0.35,"s":0.42,"c":0.45,"k":0.4},{"x":100,"e":0.48,"s":0.43,"c":0.4,"k":0.42},{"x":105,"e":0.4,"s":0.42,"c":0.47,"k":0.42},{"x":110,"e":0.45,"s":0.43,"c":0.38,"k":0.4},{"x":115,"e":0.35,"s":0.4,"c":0.42,"k":0.38},{"x":120,"e":0.4,"s":0.38,"c":0.35,"k":0.37},{"x":125,"e":0.42,"s":0.4,"c":0.45,"k":0.4},{"x":130,"e":0.32,"s":0.36,"c":0.4,"k":0.35},{"x":135,"e":0.38,"s":0.35,"c":0.3,"k":0.33},{"x":140,"e":0.3,"s":0.33,"c":0.36,"k":0.32},{"x":145,"e":0.5,"s":0.38,"c":0.32,"k":0.35},{"x":150,"e":0.3,"s":0.34,"c":0.28,"k":0.3},{"x":155,"e":0.34,"s":0.32,"c":0.36,"k":0.32},{"x":160,"e":0.28,"s":0.3,"c":0.32,"k":0.3},{"x":165,"e":0.35,"s":0.32,"c":0.28,"k":0.3},{"x":170,"e":0.3,"s":0.31,"c":0.25,"k":0.28},{"x":175,"e":0.27,"s":0.3,"c":0.32,"k":0.3},{"x":180,"e":0.35,"s":0.32,"c":0.3,"k":0.31},{"x":185,"e":0.3,"s":0.33,"c":0.38,"k":0.33},{"x":190,"e":0.4,"s":0.38,"c":0.42,"k":0.38},{"x":195,"e":0.45,"s":0.42,"c":0.4,"k":0.4},{"x":200,"e":0.4,"s":0.42,"c":0.45,"k":0.4},{"x":205,"e":0.28,"s":0.32,"c":0.3,"k":0.3},{"x":210,"e":0.12,"s":0.15,"c":0.15,"k":0.14},{"x":215,"e":0.05,"s":0.06,"c":0.06,"k":0.05},{"x":220,"e":0.02,"s":0.03,"c":0.02,"k":0.02},{"x":230,"e":0.03,"s":0.02,"c":0.04,"k":0.02},{"x":240,"e":0.02,"s":0.02,"c":0.02,"k":0.02},{"x":250,"e":0.04,"s":0.03,"c":0.02,"k":0.03},{"x":260,"e":0.01,"s":0.02,"c":0.03,"k":0.02},{"x":270,"e":0.03,"s":0.02,"c":0.02,"k":0.02},{"x":280,"e":0.02,"s":0.02,"c":0.03,"k":0.02},{"x":290,"e":0.04,"s":0.03,"c":0.02,"k":0.02},{"x":300,"e":0.02,"s":0.02,"c":0.03,"k":0.02},{"x":310,"e":0.03,"s":0.02,"c":0.02,"k":0.02},{"x":320,"e":0.02,"s":0.02,"c":0.03,"k":0.02},{"x":330,"e":0.04,"s":0.03,"c":0.02,"k":0.03},{"x":340,"e":0.02,"s":0.02,"c":0.03,"k":0.02},{"x":350,"e":0.03,"s":0.02,"c":0.02,"k":0.02},{"x":355,"e":0.02,"s":0.02,"c":0.03,"k":0.02},{"x":360,"e":0.05,"s":0.04,"c":0.05,"k":0.04},{"x":365,"e":0.12,"s":0.1,"c":0.12,"k":0.1},{"x":370,"e":0.22,"s":0.2,"c":0.22,"k":0.2},{"x":375,"e":0.35,"s":0.3,"c":0.32,"k":0.3},{"x":380,"e":0.45,"s":0.42,"c":0.45,"k":0.42},{"x":385,"e":0.55,"s":0.52,"c":0.55,"k":0.52},{"x":390,"e":0.65,"s":0.6,"c":0.62,"k":0.6},{"x":395,"e":0.72,"s":0.65,"c":0.68,"k":0.65},{"x":400,"e":0.62,"s":0.66,"c":0.7,"k":0.65},{"x":405,"e":0.68,"s":0.64,"c":0.62,"k":0.62},{"x":410,"e":0.58,"s":0.6,"c":0.65,"k":0.6},{"x":415,"e":0.55,"s":0.55,"c":0.55,"k":0.54},{"x":420,"e":0.48,"s":0.5,"c":0.5,"k":0.49},{"x":425,"e":0.4,"s":0.42,"c":0.42,"k":0.41},{"x":430,"e":0.32,"s":0.34,"c":0.35,"k":0.33},{"x":435,"e":0.24,"s":0.26,"c":0.28,"k":0.26},{"x":440,"e":0.16,"s":0.18,"c":0.2,"k":0.18},{"x":445,"e":0.08,"s":0.1,"c":0.12,"k":0.1},{"x":450,"e":0.03,"s":0.04,"c":0.05,"k":0.04},{"x":455,"e":0.01,"s":0.02,"c":0.02,"k":0.02},{"x":460,"e":0.02,"s":0.02,"c":0.01,"k":0.02},{"x":465,"e":0.03,"s":0.02,"c":0.02,"k":0.02},{"x":470,"e":0.01,"s":0.02,"c":0.03,"k":0.02},{"x":475,"e":0.08,"s":0.06,"c":0.05,"k":0.05},{"x":480,"e":0.2,"s":0.15,"c":0.15,"k":0.14},{"x":485,"e":0.4,"s":0.32,"c":0.35,"k":0.3},{"x":490,"e":0.55,"s":0.5,"c":0.55,"k":0.48},{"x":495,"e":0.62,"s":0.58,"c":0.6,"k":0.56},{"x":500,"e":0.58,"s":0.6,"c":0.55,"k":0.57},{"x":505,"e":0.65,"s":0.6,"c":0.62,"k":0.6},{"x":510,"e":0.6,"s":0.62,"c":0.58,"k":0.6},{"x":515,"e":0.7,"s":0.64,"c":0.65,"k":0.62},{"x":520,"e":0.62,"s":0.66,"c":0.7,"k":0.65},{"x":525,"e":0.72,"s":0.68,"c":0.66,"k":0.66},{"x":530,"e":0.75,"s":0.7,"c":0.72,"k":0.68},{"x":533,"e":0.3,"s":0.5,"c":0.4,"k":0.45},{"x":537,"e":0.1,"s":0.2,"c":0.15,"k":0.18},{"x":540,"e":0.05,"s":0.08,"c":0.06,"k":0.07},{"x":545,"e":0.02,"s":0.03,"c":0.03,"k":0.03},{"x":550,"e":0.0,"s":0.01,"c":0.02,"k":0.01},{"x":555,"e":0.01,"s":0.02,"c":0.01,"k":0.02},{"x":560,"e":0.04,"s":0.04,"c":0.05,"k":0.04},{"x":565,"e":0.1,"s":0.08,"c":0.08,"k":0.08},{"x":570,"e":0.15,"s":0.14,"c":0.16,"k":0.14},{"x":575,"e":0.22,"s":0.2,"c":0.2,"k":0.2},{"x":580,"e":0.28,"s":0.26,"c":0.3,"k":0.26},{"x":585,"e":0.35,"s":0.32,"c":0.32,"k":0.32},{"x":590,"e":0.38,"s":0.36,"c":0.4,"k":0.36},{"x":595,"e":0.45,"s":0.42,"c":0.42,"k":0.42},{"x":600,"e":0.55,"s":0.5,"c":0.48,"k":0.5},{"x":603,"e":0.75,"s":0.6,"c":0.55,"k":0.58},{"x":606,"e":0.6,"s":0.65,"c":0.7,"k":0.6},{"x":610,"e":0.5,"s":0.55,"c":0.52,"k":0.52},{"x":615,"e":0.45,"s":0.5,"c":0.55,"k":0.5},{"x":620,"e":0.55,"s":0.52,"c":0.48,"k":0.5},{"x":625,"e":0.48,"s":0.5,"c":0.58,"k":0.5},{"x":630,"e":0.62,"s":0.55,"c":0.5,"k":0.53},{"x":635,"e":0.45,"s":0.52,"c":0.55,"k":0.5},{"x":640,"e":0.5,"s":0.5,"c":0.45,"k":0.48},{"x":645,"e":0.55,"s":0.52,"c":0.6,"k":0.53},{"x":650,"e":0.72,"s":0.6,"c":0.55,"k":0.58},{"x":655,"e":0.5,"s":0.58,"c":0.52,"k":0.55},{"x":660,"e":0.45,"s":0.5,"c":0.58,"k":0.5},{"x":665,"e":0.62,"s":0.55,"c":0.6,"k":0.55},{"x":670,"e":0.7,"s":0.65,"c":0.62,"k":0.62},{"x":675,"e":0.6,"s":0.66,"c":0.72,"k":0.65},{"x":680,"e":0.86,"s":0.72,"c":0.7,"k":0.7},{"x":685,"e":0.65,"s":0.72,"c":0.62,"k":0.66},{"x":690,"e":0.58,"s":0.62,"c":0.68,"k":0.6},{"x":695,"e":0.72,"s":0.65,"c":0.6,"k":0.62},{"x":700,"e":0.75,"s":0.7,"c":0.78,"k":0.7},{"x":705,"e":0.6,"s":0.65,"c":0.62,"k":0.62},{"x":710,"e":0.5,"s":0.55,"c":0.58,"k":0.54},{"x":715,"e":0.55,"s":0.52,"c":0.5,"k":0.5},{"x":720,"e":0.45,"s":0.48,"c":0.52,"k":0.47},{"x":725,"e":0.3,"s":0.35,"c":0.4,"k":0.35},{"x":730,"e":0.35,"s":0.32,"c":0.3,"k":0.32},{"x":735,"e":0.4,"s":0.36,"c":0.28,"k":0.32},{"x":740,"e":0.3,"s":0.32,"c":0.36,"k":0.32},{"x":745,"e":0.2,"s":0.24,"c":0.26,"k":0.23},{"x":750,"e":0.12,"s":0.15,"c":0.16,"k":0.14},{"x":755,"e":0.05,"s":0.07,"c":0.08,"k":0.07},{"x":760,"e":0.01,"s":0.03,"c":0.03,"k":0.03},{"x":765,"e":0.15,"s":0.1,"c":0.08,"k":0.1},{"x":770,"e":0.45,"s":0.35,"c":0.3,"k":0.32},{"x":773,"e":0.7,"s":0.55,"c":0.5,"k":0.5},{"x":776,"e":0.9,"s":0.75,"c":0.68,"k":0.65},{"x":779,"e":0.55,"s":0.65,"c":0.6,"k":0.58},{"x":782,"e":0.4,"s":0.45,"c":0.5,"k":0.45},{"x":786,"e":0.3,"s":0.35,"c":0.4,"k":0.36},{"x":790,"e":0.35,"s":0.33,"c":0.32,"k":0.33},{"x":795,"e":0.55,"s":0.45,"c":0.42,"k":0.43},{"x":800,"e":0.82,"s":0.68,"c":0.6,"k":0.6},{"x":805,"e":0.65,"s":0.7,"c":0.72,"k":0.66},{"x":810,"e":0.55,"s":0.6,"c":0.58,"k":0.57},{"x":815,"e":0.5,"s":0.54,"c":0.6,"k":0.55},{"x":820,"e":0.6,"s":0.56,"c":0.52,"k":0.54},{"x":825,"e":0.52,"s":0.55,"c":0.6,"k":0.55},{"x":830,"e":0.62,"s":0.58,"c":0.55,"k":0.56},{"x":835,"e":0.55,"s":0.58,"c":0.6,"k":0.57},{"x":840,"e":0.6,"s":0.57,"c":0.5,"k":0.54},{"x":845,"e":0.45,"s":0.5,"c":0.48,"k":0.48},{"x":850,"e":0.3,"s":0.35,"c":0.38,"k":0.34},{"x":855,"e":0.18,"s":0.22,"c":0.25,"k":0.22},{"x":860,"e":0.12,"s":0.15,"c":0.16,"k":0.15},{"x":865,"e":0.2,"s":0.18,"c":0.2,"k":0.18},{"x":870,"e":0.25,"s":0.22,"c":0.24,"k":0.22},{"x":875,"e":0.3,"s":0.27,"c":0.25,"k":0.26},{"x":880,"e":0.2,"s":0.24,"c":0.26,"k":0.23},{"x":885,"e":0.15,"s":0.18,"c":0.2,"k":0.17},{"x":890,"e":0.12,"s":0.13,"c":0.12,"k":0.12},{"x":895,"e":0.05,"s":0.07,"c":0.08,"k":0.07},{"x":900,"e":0.0,"s":0.02,"c":0.02,"k":0.02},{"x":905,"e":0.05,"s":0.04,"c":0.05,"k":0.04},{"x":910,"e":0.15,"s":0.12,"c":0.15,"k":0.12},{"x":915,"e":0.4,"s":0.3,"c":0.35,"k":0.3},{"x":920,"e":0.6,"s":0.52,"c":0.55,"k":0.5},{"x":925,"e":0.68,"s":0.62,"c":0.7,"k":0.62},{"x":930,"e":0.58,"s":0.63,"c":0.6,"k":0.6},{"x":935,"e":0.72,"s":0.66,"c":0.65,"k":0.64},{"x":940,"e":0.78,"s":0.72,"c":0.75,"k":0.7},{"x":945,"e":0.62,"s":0.68,"c":0.72,"k":0.66},{"x":950,"e":0.55,"s":0.6,"c":0.58,"k":0.58},{"x":955,"e":0.48,"s":0.52,"c":0.55,"k":0.5},{"x":960,"e":0.5,"s":0.5,"c":0.45,"k":0.48},{"x":965,"e":0.35,"s":0.4,"c":0.42,"k":0.38},{"x":970,"e":0.3,"s":0.32,"c":0.28,"k":0.3},{"x":975,"e":0.15,"s":0.2,"c":0.22,"k":0.2},{"x":980,"e":0.22,"s":0.2,"c":0.18,"k":0.19},{"x":985,"e":0.15,"s":0.18,"c":0.25,"k":0.18},{"x":990,"e":0.28,"s":0.24,"c":0.2,"k":0.22},{"x":995,"e":0.2,"s":0.22,"c":0.26,"k":0.22},{"x":1000,"e":0.15,"s":0.18,"c":0.2,"k":0.18}
]
},
"columns": 2,
"spacing": {"row": 86, "column": 134},
"bounds": "flush",
"resolve": {"scale": {"color": "independent", "strokeDash": "independent"}, "legend": {"color": "independent", "strokeDash": "independent"}},
"concat": [
{
  "width": 424, "height": 222,
  "title": {"text": "Дисперсия оценок по координате X", "offset": -5, "dx": -14},
  "data": {"name": "px"},
  "transform": [{"fold": ["c", "k", "s", "e"], "as": ["series", "value"]}],
  "mark": {"type": "line", "clip": true, "strokeWidth": 1},
  "encoding": {
    "x": {"field": "x", "type": "quantitative", "scale": {"domain": [0, 1000], "nice": false}, "axis": {"values": [0,100,200,300,400,500,600,700,800,900,1000], "title": "Номер измерения"}},
    "y": {"field": "value", "type": "quantitative", "scale": {"domain": [0, 12], "nice": false}, "axis": {"values": [0,2,4,6,8,10,12], "format": "~g", "title": "Дисперсия"}},
    "color": {"field": "series", "type": "nominal", "scale": {"domain": ["e", "s", "c", "k"], "range": ["#111111", "#1a1a1a", "#8c8c8c", "#4d4d4d"]}, "legend": {"title": null, "labelExpr": "datum.label == 'e' ? 'График дисперсии оценки EKF' : datum.label == 's' ? 'График дисперсии сглаженной оценки EKF' : datum.label == 'c' ? 'График дисперсии оценки CKF' : 'График дисперсии сглаженной оценки CKF'"}},
    "strokeDash": {"field": "series", "type": "nominal", "scale": {"domain": ["e", "s", "c", "k"], "range": [[1, 0], [12, 5], [2, 2], [8, 3, 2, 3]]}, "legend": {"title": null, "labelExpr": "datum.label == 'e' ? 'График дисперсии оценки EKF' : datum.label == 's' ? 'График дисперсии сглаженной оценки EKF' : datum.label == 'c' ? 'График дисперсии оценки CKF' : 'График дисперсии сглаженной оценки CKF'"}}
  }
},
{
  "width": 422, "height": 222,
  "title": {"text": "Дисперсия оценок по координате Y", "offset": -5},
  "data": {"name": "py"},
  "transform": [{"fold": ["c", "k", "s", "e"], "as": ["series", "value"]}],
  "mark": {"type": "line", "clip": true, "strokeWidth": 1},
  "encoding": {
    "x": {"field": "x", "type": "quantitative", "scale": {"domain": [0, 1000], "nice": false}, "axis": {"values": [0,100,200,300,400,500,600,700,800,900,1000], "title": "Номер измерения"}},
    "y": {"field": "value", "type": "quantitative", "scale": {"domain": [0, 15], "nice": false}, "axis": {"values": [0,5,10,15], "format": "~g", "title": "Дисперсия"}},
    "color": {"field": "series", "type": "nominal", "scale": {"domain": ["e", "s", "c", "k"], "range": ["#111111", "#1a1a1a", "#8c8c8c", "#4d4d4d"]}, "legend": {"title": null, "labelExpr": "datum.label == 'e' ? 'График дисперсии оценки EKF' : datum.label == 's' ? 'График дисперсии сглаженной оценки EKF' : datum.label == 'c' ? 'График дисперсии оценки CKF' : 'График дисперсии сглаженной оценки CKF'"}},
    "strokeDash": {"field": "series", "type": "nominal", "scale": {"domain": ["e", "s", "c", "k"], "range": [[1, 0], [12, 5], [2, 2], [8, 3, 2, 3]]}, "legend": {"title": null, "labelExpr": "datum.label == 'e' ? 'График дисперсии оценки EKF' : datum.label == 's' ? 'График дисперсии сглаженной оценки EKF' : datum.label == 'c' ? 'График дисперсии оценки CKF' : 'График дисперсии сглаженной оценки CKF'"}}
  }
},
{
  "width": 424, "height": 221,
  "title": {"text": "Дисперсия оценок скорости по координате X", "offset": 2.5},
  "data": {"name": "vx"},
  "transform": [{"fold": ["c", "k", "s", "e"], "as": ["series", "value"]}],
  "mark": {"type": "line", "clip": true, "strokeWidth": 1},
  "encoding": {
    "x": {"field": "x", "type": "quantitative", "scale": {"domain": [0, 1000], "nice": false}, "axis": {"values": [0,100,200,300,400,500,600,700,800,900,1000], "title": "Номер измерения"}},
    "y": {"field": "value", "type": "quantitative", "scale": {"domain": [0, 3], "nice": false}, "axis": {"values": [0,0.5,1,1.5,2,2.5,3], "format": "~g", "title": "Дисперсия"}},
    "color": {"field": "series", "type": "nominal", "scale": {"domain": ["e", "s", "c", "k"], "range": ["#555555", "#111111", "#9a9a9a", "#4d4d4d"]}, "legend": {"title": null, "labelExpr": "datum.label == 'e' ? 'График дисперсии оценки EKF' : datum.label == 's' ? 'График дисперсии сглаженной оценки EKF' : datum.label == 'c' ? 'График дисперсии оценки CKF' : 'График дисперсии сглаженной оценки CKF'"}},
    "strokeDash": {"field": "series", "type": "nominal", "scale": {"domain": ["e", "s", "c", "k"], "range": [[1, 0], [12, 3, 2, 3], [2, 2], [8, 3, 2, 3]]}, "legend": {"title": null, "labelExpr": "datum.label == 'e' ? 'График дисперсии оценки EKF' : datum.label == 's' ? 'График дисперсии сглаженной оценки EKF' : datum.label == 'c' ? 'График дисперсии оценки CKF' : 'График дисперсии сглаженной оценки CKF'"}}
  }
},
{
  "width": 422, "height": 221,
  "title": {"text": "Дисперсия оценок скорости по координате Y", "offset": 2.5},
  "data": {"name": "vy"},
  "transform": [{"fold": ["c", "k", "s", "e"], "as": ["series", "value"]}],
  "mark": {"type": "line", "clip": true, "strokeWidth": 1},
  "encoding": {
    "x": {"field": "x", "type": "quantitative", "scale": {"domain": [0, 1000], "nice": false}, "axis": {"values": [0,100,200,300,400,500,600,700,800,900,1000], "title": "Номер измерения"}},
    "y": {"field": "value", "type": "quantitative", "scale": {"domain": [0, 1.5], "nice": false}, "axis": {"values": [0,0.5,1,1.5], "format": "~g", "title": "Дисперсия"}},
    "color": {"field": "series", "type": "nominal", "scale": {"domain": ["e", "s", "c", "k"], "range": ["#111111", "#333333", "#9a9a9a", "#6a6a6a"]}, "legend": {"title": null, "labelExpr": "datum.label == 'e' ? 'График дисперсии оценки EKF' : datum.label == 's' ? 'График дисперсии сглаженной оценки EKF' : datum.label == 'c' ? 'График дисперсии оценки CKF' : 'График дисперсии сглаженной оценки CKF'"}},
    "strokeDash": {"field": "series", "type": "nominal", "scale": {"domain": ["e", "s", "c", "k"], "range": [[1, 0], [12, 5], [2, 2], [8, 3, 2, 3]]}, "legend": {"title": null, "labelExpr": "datum.label == 'e' ? 'График дисперсии оценки EKF' : datum.label == 's' ? 'График дисперсии сглаженной оценки EKF' : datum.label == 'c' ? 'График дисперсии оценки CKF' : 'График дисперсии сглаженной оценки CKF'"}}
  }
}
]
}
